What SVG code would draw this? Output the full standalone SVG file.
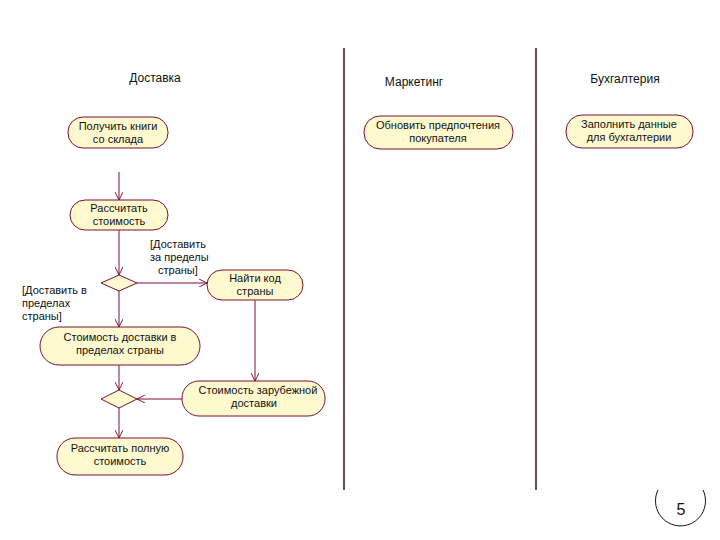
<svg xmlns="http://www.w3.org/2000/svg" width="720" height="540" viewBox="0 0 720 540">
<defs>
<style>
.n{fill:#FFF9D0;stroke:#7a1030;stroke-width:1}
.d{fill:#FFF9D0;stroke:#7a1030;stroke-width:1}
.t{font-family:"Liberation Sans",Arial,sans-serif;font-size:11px;fill:#111;text-anchor:middle}
.l{font-family:"Liberation Sans",Arial,sans-serif;font-size:11px;fill:#111}
.h{font-family:"Liberation Sans",Arial,sans-serif;font-size:12px;fill:#111;text-anchor:middle}
.c{stroke:#7a1030;stroke-width:1;fill:none}
.lane{stroke:#3a1018;stroke-width:1.5}
</style>
<marker id="a" viewBox="0 0 10 10" refX="10" refY="5" markerWidth="8" markerHeight="8" orient="auto" markerUnits="userSpaceOnUse">
<path d="M0,0 L10,5 L0,10" fill="none" stroke="#7a1030" stroke-width="1.2"/>
</marker>
</defs>
<rect width="720" height="540" fill="#fff"/>
<g id="lanes">
<line class="lane" x1="344" y1="48" x2="344" y2="490"/>
<line class="lane" x1="536" y1="48" x2="536" y2="490"/>
<text class="h" x="155" y="82">Доставка</text>
<text class="h" x="414" y="86">Маркетинг</text>
<text class="h" x="625" y="83">Бухгалтерия</text>
</g>
<g id="connectors">
<line class="c" x1="119" y1="172" x2="119" y2="200" marker-end="url(#a)"/>
<line class="c" x1="119" y1="230" x2="119" y2="275" marker-end="url(#a)"/>
<line class="c" x1="137" y1="283" x2="207" y2="283" marker-end="url(#a)"/>
<line class="c" x1="119" y1="291" x2="119" y2="327" marker-end="url(#a)"/>
<line class="c" x1="255" y1="300" x2="255" y2="381" marker-end="url(#a)"/>
<line class="c" x1="119" y1="365" x2="119" y2="390" marker-end="url(#a)"/>
<line class="c" x1="182" y1="399" x2="137" y2="399" marker-end="url(#a)"/>
<line class="c" x1="119" y1="407" x2="119" y2="438" marker-end="url(#a)"/>
<text class="l" x="150" y="248">[Доставить</text>
<text class="l" x="150" y="261">за пределы</text>
<text class="l" x="158" y="274">страны]</text>
<text class="l" x="22" y="294">[Доставить в</text>
<text class="l" x="22" y="307">пределах</text>
<text class="l" x="22" y="320">страны]</text>
</g>
<g id="n1"><rect class="n" x="68" y="117" width="100" height="31" rx="15"/>
<text class="t" x="118" y="130">Получить книги</text><text class="t" x="118" y="143">со склада</text></g>
<g id="n2"><rect class="n" x="70" y="200" width="98" height="30" rx="15"/>
<text class="t" x="119" y="212">Рассчитать</text><text class="t" x="119" y="225">стоимость</text></g>
<g id="dec1"><polygon class="d" points="119,275 137,283 119,291 101,283"/></g>
<g id="n3"><rect class="n" x="207" y="270" width="96" height="30" rx="15"/>
<text class="t" x="255" y="282">Найти код</text><text class="t" x="255" y="295">страны</text></g>
<g id="n4"><rect class="n" x="40" y="327" width="160" height="38" rx="19"/>
<text class="t" x="120" y="341">Стоимость доставки в</text><text class="t" x="120" y="354">пределах страны</text></g>
<g id="n5"><rect class="n" x="182" y="381" width="143" height="35" rx="17"/>
<text class="t" x="258" y="394">Стоимость зарубежной</text><text class="t" x="254" y="407">доставки</text></g>
<g id="dec2"><polygon class="d" points="119,390 137,399 119,408 101,399"/></g>
<g id="n6"><rect class="n" x="57" y="438" width="126" height="37" rx="18"/>
<text class="t" x="120" y="452">Рассчитать полную</text><text class="t" x="120" y="465">стоимость</text></g>
<g id="n7"><rect class="n" x="364" y="116" width="149" height="33" rx="16"/>
<text class="t" x="438" y="129">Обновить предпочтения</text><text class="t" x="438" y="142">покупателя</text></g>
<g id="n8"><rect class="n" x="566" y="115" width="127" height="33" rx="16"/>
<text class="t" x="629" y="128">Заполнить данные</text><text class="t" x="629" y="141">для бухгалтерии</text></g>
<g id="page">
<path d="M658,490 A25,25 0 1 0 703,490" fill="none" stroke="#111" stroke-width="1"/>
<text x="681" y="515" font-family="'Liberation Sans',Arial,sans-serif" font-size="16" text-anchor="middle" fill="#111">5</text>
</g>
</svg>
